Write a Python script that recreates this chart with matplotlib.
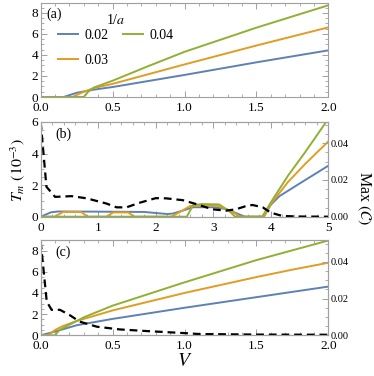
import matplotlib
matplotlib.use("Agg")
import matplotlib.pyplot as plt
from matplotlib.ticker import MultipleLocator
import numpy as np

plt.rcParams['font.family'] = ['Liberation Serif', 'DejaVu Serif']
plt.rcParams['mathtext.fontset'] = 'stix'

BLUE = '#5E81B5'
ORANGE = '#E19C24'
GREEN = '#8FB032'
FRAME = '#a0a0a0'

inv_a = ['0.02', '0.03', '0.04']

# Panel (a): T_m (10^-3) vs V
a_blue_x = [0, 0.16, 0.25, 0.37, 0.5, 1.0, 1.5, 2.0]
a_blue_y = [0, 0, 0.4, 0.7, 0.95, 2.1, 3.3, 4.44]
a_orange_x = [0, 0.22, 0.3, 0.37, 0.5, 1.0, 1.5, 2.0]
a_orange_y = [0, 0, 0.5, 0.85, 1.25, 3.1, 4.9, 6.63]
a_green_x = [0, 0.30, 0.33, 0.37, 0.5, 0.75, 1.0, 1.5, 2.0]
a_green_y = [0, 0, 0.5, 0.9, 1.55, 2.95, 4.3, 6.6, 8.73]

# Panel (b)
b_blue_x = [0, 0.18, 0.3, 1.0, 1.8, 2.2, 2.3, 2.5, 2.65, 3.0, 3.2, 3.35, 3.55, 3.88, 4.0, 4.15, 4.5, 5.0]
b_blue_y = [0, 0.28, 0.33, 0.32, 0.3, 0.17, 0.2, 0.42, 0.6, 0.6, 0.5, 0.3, 0.0, 0.0, 0.75, 1.3, 2.1, 3.23]
b_orange_x = [0, 0.24, 0.39, 0.7, 0.82, 1.14, 1.26, 1.52, 1.63, 2.27, 2.42, 2.6, 3.06, 3.29, 3.47, 3.88, 4.0, 4.3, 4.6, 5.0]
b_orange_y = [0, 0, 0.3, 0.3, 0, 0, 0.27, 0.27, 0, 0, 0.3, 0.68, 0.7, 0.4, 0, 0, 0.8, 2.2, 3.35, 4.77]
b_green_x = [0, 2.54, 2.65, 2.8, 3.1, 3.29, 3.38, 3.85, 4.0, 4.3, 4.6, 5.0]
b_green_y = [0, 0, 0.74, 0.8, 0.78, 0.32, 0, 0, 0.9, 2.6, 4.1, 6.2]
b_max_x = [0, 0.1, 0.25, 0.54, 0.8, 1.14, 1.32, 1.49, 1.72, 2.0, 2.18, 2.47, 2.7, 2.99, 3.22, 3.39, 3.57, 3.68, 3.86, 4.0, 4.2, 4.5, 5.0]
b_max_y = [0.0516, 0.0163, 0.0108, 0.0112, 0.0100, 0.0072, 0.0051, 0.0051, 0.0076, 0.0101, 0.0100, 0.0090, 0.0069, 0.0040, 0.0033, 0.0040, 0.0058, 0.0064, 0.0051, 0.0022, 0.0004, 0.0001, 0.0]

# Panel (c)
c_blue_x = [0, 0.1, 0.25, 0.5, 1.0, 1.5, 2.0]
c_blue_y = [0, 0.35, 0.95, 1.55, 2.6, 3.6, 4.6]
c_orange_x = [0, 0.05, 0.1, 0.15, 0.25, 0.5, 1.0, 1.5, 1.75, 2.0]
c_orange_y = [0, 0, 0.5, 0.85, 1.35, 2.35, 4.0, 5.5, 6.2, 6.85]
c_green_x = [0, 0.1, 0.13, 0.2, 0.3, 0.5, 1.0, 1.5, 2.0]
c_green_y = [0, 0, 0.5, 1.0, 1.7, 2.8, 5.0, 7.1, 8.95]
c_max_x = [0, 0.042, 0.076, 0.134, 0.2, 0.27, 0.39, 0.55, 0.74, 1.0, 1.1, 1.5, 2.0]
c_max_y = [0.0511, 0.0184, 0.0139, 0.0139, 0.0111, 0.0075, 0.0047, 0.0032, 0.0023, 0.0012, 0.0007, 0.0004, 0.0003]

W, H = 374, 376
fig = plt.figure(figsize=(W / 100, H / 100), dpi=100)

def rect(l, t, r, b):
    return [l / W, 1 - b / H, (r - l) / W, (b - t) / H]

def style(ax, xmaj, xmin, ymaj, ymin, right=True):
    for s in ax.spines.values():
        s.set_color(FRAME)
        s.set_linewidth(0.8)
    ax.xaxis.set_major_locator(MultipleLocator(xmaj))
    ax.xaxis.set_minor_locator(MultipleLocator(xmin))
    ax.yaxis.set_major_locator(MultipleLocator(ymaj))
    ax.yaxis.set_minor_locator(MultipleLocator(ymin))
    ax.tick_params(which='both', direction='in', color=FRAME, top=True, right=right,
                   labelsize=9.5, pad=2)
    ax.tick_params(axis='x', which='both', pad=3.5)
    ax.tick_params(which='major', length=4, width=0.7)
    ax.tick_params(which='minor', length=2, width=0.6)

lw = 1.4
dash = (0, (3.5, 2.2))

# (a)
axa = fig.add_axes(rect(40.7, 3.3, 328.3, 97))
axa.plot(a_blue_x, a_blue_y, color=BLUE, lw=lw, label=inv_a[0])
axa.plot(a_orange_x, a_orange_y, color=ORANGE, lw=lw, label=inv_a[1])
axa.plot(a_green_x, a_green_y, color=GREEN, lw=lw, label=inv_a[2])
axa.set_xlim(0, 2)
axa.set_ylim(0, 8.92)
style(axa, 0.5, 0.1, 2, 0.5)
axa.xaxis.set_major_formatter(matplotlib.ticker.FormatStrFormatter('%.1f'))
axa.text(0.02, 0.96, '(a)', transform=axa.transAxes, fontsize=10, va='top', ha='left')
leg = axa.legend(loc='upper left', bbox_to_anchor=(0.025, 0.995), ncol=2, frameon=False,
                 title='1/$a$', fontsize=10, title_fontsize=10, handlelength=1.45,
                 labelspacing=0.85, columnspacing=1.0, handletextpad=0.5, borderpad=0.2)
leg._legend_box.align = 'center'
leg._legend_box.sep = 1

# (b)
axb = fig.add_axes(rect(40.7, 122, 328.3, 216.7))
axb.plot(b_blue_x, b_blue_y, color=BLUE, lw=lw)
axb.plot(b_orange_x, b_orange_y, color=ORANGE, lw=lw)
axb.plot(b_green_x, b_green_y, color=GREEN, lw=lw)
axb.set_xlim(0, 5)
axb.set_ylim(0, 6)
style(axb, 1, 0.2, 2, 0.5, right=False)
axb.text(0.05, 0.94, '(b)', transform=axb.transAxes, fontsize=10, va='top', ha='left')
axb2 = axb.twinx()
axb2.plot(b_max_x, b_max_y, color='black', lw=1.6, linestyle=dash)
axb2.set_ylim(0, 0.0516)
style(axb2, 1, 0.2, 0.02, 0.005)
axb2.tick_params(axis='y', which='both', labelsize=7.5, left=False, right=True)
axb2.tick_params(axis='x', which='both', top=False, bottom=False)
axb2.yaxis.set_major_formatter(matplotlib.ticker.FormatStrFormatter('%.2f'))

# (c)
axc = fig.add_axes(rect(40.7, 240, 328.3, 335.3))
axc.plot(c_blue_x, c_blue_y, color=BLUE, lw=lw)
axc.plot(c_orange_x, c_orange_y, color=ORANGE, lw=lw)
axc.plot(c_green_x, c_green_y, color=GREEN, lw=lw)
axc.set_xlim(0, 2)
axc.set_ylim(0, 9.0)
style(axc, 0.5, 0.1, 2, 0.5, right=False)
axc.xaxis.set_major_formatter(matplotlib.ticker.FormatStrFormatter('%.1f'))
axc.text(0.05, 0.94, '(c)', transform=axc.transAxes, fontsize=10, va='top', ha='left')
axc2 = axc.twinx()
axc2.plot(c_max_x, c_max_y, color='black', lw=1.6, linestyle=dash)
axc2.set_ylim(0, 0.052)
style(axc2, 0.5, 0.1, 0.02, 0.005)
axc2.tick_params(axis='y', which='both', labelsize=7.5, left=False, right=True)
axc2.tick_params(axis='x', which='both', top=False, bottom=False)
axc2.yaxis.set_major_formatter(matplotlib.ticker.FormatStrFormatter('%.2f'))

fig.text(18 / W, 1 - 170 / H, r'$T_m$ $(10^{-3})$', rotation=90, ha='center', va='center', fontsize=11.5)
fig.text(364 / W, 1 - 198 / H, r'Max $(\mathcal{C})$', rotation=270, ha='center', va='center', fontsize=11.5)
fig.text(185 / W, 1 - 362 / H, r'$V$', ha='center', va='center', fontsize=14)

fig.savefig('out.png', dpi=100)
